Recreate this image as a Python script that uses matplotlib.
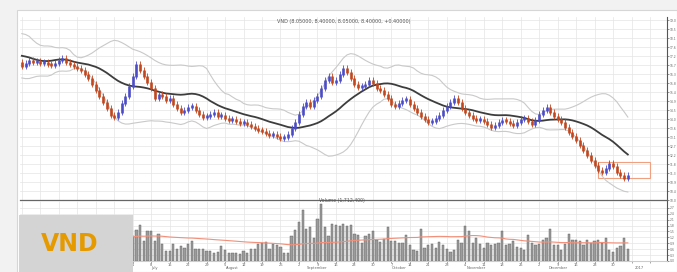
import numpy as np
import pandas as pd
import matplotlib
matplotlib.use("Agg")
import matplotlib.pyplot as plt
from matplotlib.patches import Rectangle

plt.rcParams["font.family"] = ["DejaVu Sans"]

# closes before the first visible bar (only used for MA / bands)
warmup_close = [17.6, 17.9, 18.2, 18.0, 17.7, 17.3, 16.8, 16.4, 16.2, 16.5,
                16.9, 17.3, 17.6, 17.8, 17.5, 17.2, 16.9, 16.8, 16.9]

close = [
    16.70, 16.85, 17.00, 16.90, 16.95, 16.85, 16.90,
    16.80, 16.75, 16.85, 17.00, 17.10, 16.90,
    16.80, 16.70, 16.60, 16.50, 16.30,
    16.10, 15.80, 15.50, 15.20, 14.90, 14.60,
    14.25, 14.15, 14.40, 14.85,
    15.20, 15.70, 16.20, 16.80,
    16.50, 16.20, 15.90, 15.60, 15.10,
    15.30, 15.20, 15.00, 15.10,
    14.80, 14.60, 14.40, 14.50,
    14.65, 14.70, 14.50, 14.30,
    14.15, 14.20, 14.30, 14.40,
    14.20, 14.25, 14.10, 14.00,
    14.05, 13.95, 13.85, 13.90,
    13.80, 13.70, 13.60, 13.50,
    13.45, 13.35, 13.25, 13.30,
    13.20, 13.10, 13.15, 13.30,
    13.60, 13.90, 14.30, 14.70,
    14.90, 14.70, 15.00, 15.20,
    15.60, 16.00, 16.20, 15.90,
    16.00, 16.30, 16.60, 16.40,
    16.10, 15.80, 15.65, 15.70,
    15.80, 16.00, 15.85, 15.60,
    15.50, 15.30, 15.10, 14.80,
    14.70, 14.85, 15.00, 15.05,
    14.80, 14.60, 14.40, 14.20,
    14.05, 13.90, 13.95, 14.10,
    14.25, 14.50, 14.70, 14.90,
    15.10, 14.90, 14.60, 14.40,
    14.25, 14.10, 14.00, 14.05,
    13.95, 13.80, 13.65, 13.75,
    13.90, 14.00, 13.95, 13.85,
    13.75, 13.90, 14.05, 14.10,
    13.95, 13.80, 14.00, 14.30,
    14.50, 14.65, 14.40, 14.20,
    14.05, 13.90, 13.65, 13.40,
    13.20, 13.00, 12.75, 12.50,
    12.25, 12.00, 11.75, 11.50,
    11.40, 11.60, 11.85, 11.70,
    11.40, 11.25, 11.10, 11.25,
]

# volume, thousand shares
volume = [
    1200, 1100, 1300, 1000, 1250, 1400, 1150, 1050, 1000, 1100, 1300, 1200, 1100,
    1000, 1150, 1350, 1400, 1250, 1300, 1450, 1350, 1500, 1300, 1550, 1400, 1350,
    1100, 1000, 1200, 1300, 1250,
    1600, 1850, 1000, 1550, 1500, 1000, 1350, 850, 500, 500, 850, 600, 750, 650,
    850, 1000, 600, 600, 600, 500, 500, 400, 450, 750, 550, 400, 400, 400, 350,
    500, 400, 600, 600, 850,
    900, 950, 600, 850, 800, 700, 400, 400, 1250, 1600, 2000, 2600, 1650, 1750,
    1150, 2150, 2900, 1750, 1250, 1900, 1850, 1800, 1900, 1800, 1850, 1350, 1300,
    900, 1250, 1350, 1500, 1050, 950, 1100,
    1750, 1000, 1000, 900, 900, 1300, 800, 550, 500, 1650, 650, 800, 850, 650,
    950, 800, 600, 450, 550, 1050, 900, 1800, 1500, 900, 1150, 850, 650, 900,
    800, 850, 900, 1500, 800,
    850, 1000, 700, 650, 550, 1300, 900, 800, 850, 1050, 1150, 1650, 800, 800,
    550, 850, 1350, 1050, 1050, 1000, 800, 1050, 900, 1000, 1050, 900, 1150, 550,
    450, 650, 750, 1150, 600,
]

month_names = ["June", "July", "August", "September", "October", "November",
               "December", "2017"]
title_text = "VND (8.05000, 8.40000, 8.05000, 8.40000, +0.40000)"
volume_text = "Volume (1,712,400)"
box_bars = (156, 170)
box_price = (11.1, 11.9)

n = len(close)
x = np.arange(n)
dates = pd.bdate_range(end="2017-01-05", periods=n)

all_close = pd.Series(warmup_close + close)
ma = all_close.rolling(20).mean().values[len(warmup_close):]
sd = all_close.rolling(20).std(ddof=0).values[len(warmup_close):]
upper = ma + 2 * sd
lower = ma - 2 * sd
opens = np.array([warmup_close[-1]] + close[:-1])
closes = np.array(close)
vol_avg = pd.Series(volume).rolling(50, min_periods=1).mean()

W, H = 677, 272
fig = plt.figure(figsize=(W / 100, H / 100), dpi=100)
fig.patch.set_facecolor("#f2f2f2")
fig.add_artist(Rectangle((17 / W, 0), (677 - 17) / W, (H - 10) / H,
                         transform=fig.transFigure, facecolor="white",
                         edgecolor="#d6d6d6", lw=0.8, zorder=0))

ax = fig.add_axes([20 / W, 1 - 200 / H, (667 - 20) / W, (200 - 17) / H])
axv = fig.add_axes([20 / W, 1 - 261 / H, (667 - 20) / W, (261 - 201) / H],
                   sharex=ax)

for a in (ax, axv):
    a.set_facecolor("none")
    a.grid(True, color="#e4e4e4", lw=0.5)
    a.set_axisbelow(True)
    for s in ("top", "left"):
        a.spines[s].set_visible(False)
    a.spines["right"].set_color("#555555")
    a.spines["right"].set_linewidth(0.8)
    a.yaxis.tick_right()
    a.tick_params(axis="y", labelsize=2.2, colors="#666666", length=1.5,
                  width=0.5, pad=0.5)
ax.spines["bottom"].set_color("#666666")
ax.spines["bottom"].set_linewidth(0.9)
axv.spines["bottom"].set_color("#cccccc")

ax.set_xlim(-0.5, 174.6)
ax.set_ylim(10.0, 19.15)
ax.set_yticks(np.arange(10.0, 19.2, 0.45))
ax.yaxis.set_major_formatter(plt.FormatStrFormatter("%.1f"))
ax.set_xticks(np.arange(0, 175, 5))
ax.tick_params(axis="x", length=0, labelbottom=False)

# bands and moving average
ax.plot(x, upper, color="#c9c9c9", lw=0.8)
ax.plot(x, lower, color="#c9c9c9", lw=0.8)
ax.plot(x, ma, color="#3d3d3d", lw=1.3)

# candles
up = closes >= opens
colors = np.where(up, "#4c4cc6", "#c2461e")
lo = np.minimum(opens, closes)
hi = np.maximum(opens, closes)
ax.vlines(x, lo - 0.15, hi + 0.15, colors=colors, lw=0.6)
ax.vlines(x, lo - 0.03, np.maximum(hi, lo + 0.12), colors=colors, lw=1.9)

ax.add_patch(Rectangle((box_bars[0], box_price[0]), box_bars[1] - box_bars[0],
                       box_price[1] - box_price[0], fill=False,
                       edgecolor="#efa080", lw=0.8))
ax.text(0.5, 0.978, title_text, transform=ax.transAxes, ha="center",
        va="center", fontsize=3.5, color="#555555")

# volume
axv.bar(x, volume, width=0.6, color="#9c9c9c", edgecolor="#5a5a5a", lw=0.3)
axv.plot(x, vol_avg, color="#f0907a", lw=0.8)
axv.set_ylim(0, 3050)
axv.set_yticks(np.arange(0, 2800, 300))
axv.yaxis.set_major_formatter(plt.FuncFormatter(lambda v, p: f"{v / 1000:.1f}"))
spike = int(np.argmax(volume))
axv.text(spike - 0.5, max(volume) + 40, volume_text, fontsize=3.3,
         color="#555555", va="bottom")
axv.set_xticks(np.arange(0, 175, 5))
day_labels = [str(dates[i].day) if i < n else "" for i in range(0, 175, 5)]
axv.set_xticklabels(day_labels)
axv.tick_params(axis="x", labelsize=2.6, colors="#666666", length=1.2, width=0.4,
                pad=0.4)

starts = [i for i in range(1, n) if dates[i].month != dates[i - 1].month]
for name, i in zip(month_names, starts):
    axv.text(i + 6, -0.12, name, transform=axv.get_xaxis_transform(),
             fontsize=2.6, color="#666666", ha="center", va="center")

# ticker label box
fig.add_artist(Rectangle((19 / W, 0), (133 - 19) / W, (H - 215) / H,
                         transform=fig.transFigure, facecolor="#d4d4d4",
                         edgecolor="none", zorder=10))
fig.text(70 / W, 1 - 244 / H, "VND", fontsize=17, fontweight="bold",
         color="#e59a00", ha="center", va="center", zorder=11)

fig.savefig("out.png", dpi=100, facecolor=fig.get_facecolor())
